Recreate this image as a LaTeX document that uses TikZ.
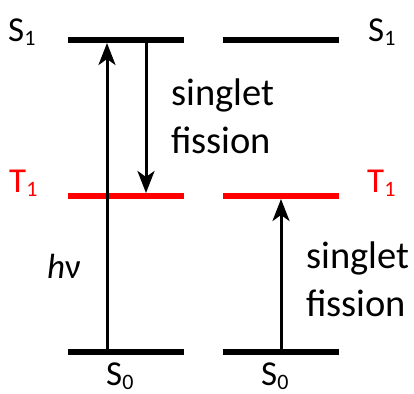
\documentclass[tikz,border=0pt]{standalone}
\usepackage{fontspec}
\setmainfont{Carlito}
\usetikzlibrary{arrows.meta}
\newcommand{\lbl}[2]{#1{\fontsize{22}{22}\selectfont\raisebox{-4pt}{#2}}}
\begin{document}
\begin{tikzpicture}[x=1pt,y=-1pt,
  level/.style={line width=6pt},
  trans/.style={line width=3pt,-{Stealth[length=22pt,width=17pt,inset=6pt]}},
  txt/.style={inner sep=0pt,anchor=base west,font=\fontsize{35}{42}\selectfont},
  sftxt/.style={inner sep=0pt,anchor=base west,font=\fontsize{38.5}{46}\selectfont}]
\useasboundingbox[fill=white] (0,0) rectangle (414,393);
% level end points
\coordinate (S1La) at (68,40);  \coordinate (S1Lb) at (184,40);
\coordinate (T1La) at (68,196); \coordinate (T1Lb) at (184,196);
\coordinate (S0La) at (68,352); \coordinate (S0Lb) at (184,352);
\coordinate (S1Ra) at (223,40);  \coordinate (S1Rb) at (339,40);
\coordinate (T1Ra) at (223,196); \coordinate (T1Rb) at (339,196);
\coordinate (S0Ra) at (223,352); \coordinate (S0Rb) at (339,352);
% transition end points
\coordinate (exA) at (107,352); \coordinate (exB) at (107,43);
\coordinate (sfA) at (146,40);  \coordinate (sfB) at (146,193);
\coordinate (rA) at (281,352);  \coordinate (rB) at (281,199);
% levels
\draw[level] (S1La) -- (S1Lb);
\draw[level,red] (T1La) -- (T1Lb);
\draw[level] (S0La) -- (S0Lb);
\draw[level] (S1Ra) -- (S1Rb);
\draw[level,red] (T1Ra) -- (T1Rb);
\draw[level] (S0Ra) -- (S0Rb);
% transitions
\draw[trans] (exA) -- (exB);
\draw[trans] (sfA) -- (sfB);
\draw[trans] (rA) -- (rB);
% labels
\node[txt] (lS1L) at (8,42) {\lbl{S}{1}};
\node[txt] (lS1R) at (368,42) {\lbl{S}{1}};
\node[txt,red] (lT1L) at (9,192) {\lbl{T}{1}};
\node[txt,red] (lT1R) at (367,192) {\lbl{T}{1}};
\node[txt] (lS0L) at (106,385) {\lbl{S}{0}};
\node[txt] (lS0R) at (261,385) {\lbl{S}{0}};
\node[txt] (hnu) at (47,278) {\textit{h}ν};
\node[sftxt] (sf1a) at (171,105) {singlet};
\node[sftxt] (sf1b) at (171,153) {fission};
\node[sftxt] (sf2a) at (306,268) {singlet};
\node[sftxt] (sf2b) at (306,316) {fission};
\end{tikzpicture}
\end{document}
